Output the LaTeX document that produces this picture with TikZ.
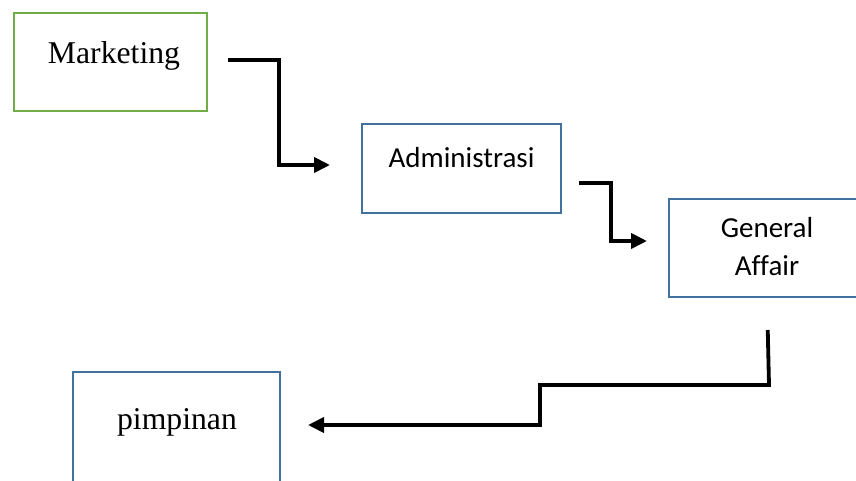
\documentclass[tikz,border=0pt]{standalone}
\usepackage{fontspec}
\setmainfont{Liberation Serif}
\newfontfamily\calibri[Ligatures=NoCommon]{Carlito}
\usetikzlibrary{arrows.meta}
\definecolor{boxblue}{HTML}{41719C}
\definecolor{boxgreen}{HTML}{70AD47}

\begin{document}
\begin{tikzpicture}[x=1pt,y=-1pt,
		box/.style={rectangle,draw=boxblue,line width=2pt,inner sep=0pt},
		serif/.style={font=\fontsize{31.7}{36}\selectfont,inner sep=0pt,anchor=base},
		sans/.style={font=\fontsize{29}{38}\calibri,inner sep=0pt,anchor=base,align=center},
		flow/.style={line width=3.8pt,line join=miter,-{Triangle[length=16pt,width=15pt]}}]
	\useasboundingbox (0,0) rectangle (856,480);
	% boxes
	\node[box,draw=boxgreen,minimum width=193pt,minimum height=98pt] (mkt) at (110.5,62) {};
	\node[box,minimum width=199pt,minimum height=89pt] (adm) at (461.5,168.5) {};
	\node[box,minimum width=191pt,minimum height=98pt] (ga) at (764.5,248) {};
	\node[box,minimum width=207pt,minimum height=112pt] (pim) at (176.5,428) {};
	% texts
	\node[serif] (mkttext) at (114,63) {Marketing};
	\node[sans] (admtext) at (461.5,167) {Administrasi};
	\node[sans] (gatext) at (767,275) {General\\Affair};
	\node[serif] (pimtext) at (177,429) {pimpinan};
	% arrows
	\draw[flow,shorten <=20pt,shorten >=31pt] ([yshift=2pt]mkt.east) -- (279,60) |- ([yshift=3.5pt]adm.west);
	\draw[flow,shorten <=17pt,shorten >=21pt] ([yshift=-14.5pt]adm.east) -- (611,183) |- ([yshift=7pt]ga.west);
	\draw[flow,shorten <=32pt,shorten >=27pt] ([xshift=2.5pt]ga.south) -- (769,385) -- (540,385) |- ([yshift=3pt]pim.east);
\end{tikzpicture}
\end{document}
